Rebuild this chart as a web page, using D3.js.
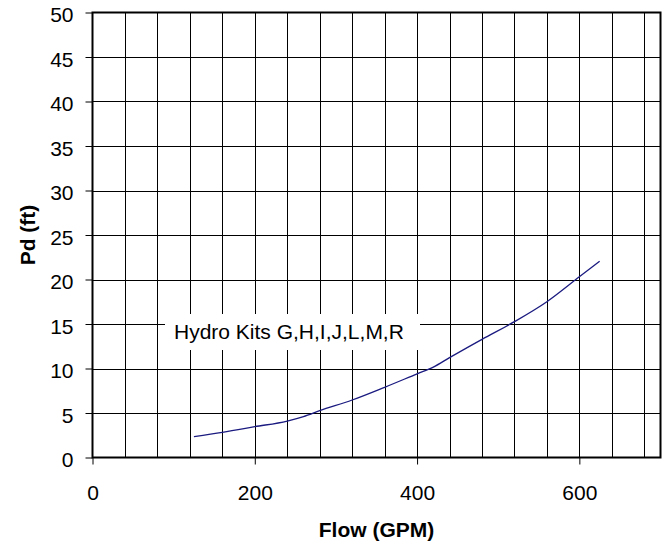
<!DOCTYPE html>
<html><head><meta charset="utf-8">
<script src="https://cdn.jsdelivr.net/npm/d3@7"></script>
<style>body{margin:0;background:#fff}svg{display:block}</style>
</head><body><svg id="c" width="668" height="546"></svg>
<script>
const flow = [125,160,200,240,260,280,320,360,400,420,440,480,520,560,600,625];
const pd   = [2.35,2.83,3.46,4.1,4.6,5.26,6.46,7.89,9.4,10.15,11.22,13.28,15.26,17.5,20.3,22.05];
const xTickLabels = [0,200,400,600];
const yTickLabels = [0,5,10,15,20,25,30,35,40,45,50];
const xGrid = d3.range(40,700,40);
const seriesLabel = "Hydro Kits G,H,I,J,L,M,R";

const FONT = "Arial, 'Liberation Sans', sans-serif";
const svg = d3.select("#c");
const L=92.5, R=660.5, T=12.5, B=457.5;
const x = d3.scaleLinear().domain([0,700]).range([L,R]);
const y = d3.scaleLinear().domain([0,50]).range([B,T]);

const g = svg.append("g");
g.selectAll(".vg").data(xGrid).join("line")
  .attr("x1",d=>Math.round(x(d))+0.5).attr("x2",d=>Math.round(x(d))+0.5)
  .attr("y1",T).attr("y2",B).attr("stroke","#000").attr("stroke-width",1).attr("shape-rendering","crispEdges");
g.selectAll(".hg").data(yTickLabels.slice(1,-1)).join("line")
  .attr("y1",d=>Math.round(y(d))+0.5).attr("y2",d=>Math.round(y(d))+0.5)
  .attr("x1",L).attr("x2",R).attr("stroke","#000").attr("stroke-width",1).attr("shape-rendering","crispEdges");

// label box
svg.append("rect").attr("x",165).attr("y",314).attr("width",255).attr("height",36).attr("fill","#fff");
svg.append("text").attr("x",174).attr("y",339).style("font-family",FONT).style("font-size","21px")
  .attr("fill","#000").text(seriesLabel);

// frame
svg.append("rect").attr("x",L).attr("y",T).attr("width",R-L).attr("height",B-T)
  .attr("fill","none").attr("stroke","#000").attr("stroke-width",2);

// axes
const yAxis = d3.axisLeft(y).tickValues(yTickLabels).tickSize(7).tickPadding(12);
const ya = svg.append("g").attr("transform",`translate(${L},0)`).call(yAxis);
ya.select(".domain").remove();
ya.selectAll("line").attr("stroke","#000");
ya.selectAll("text").style("font-size","21px").style("font-family",FONT).attr("fill","#000").attr("dy","0.44em");

const xAxis = d3.axisBottom(x).tickValues(xTickLabels).tickSize(7).tickPadding(21);
const xa = svg.append("g").attr("transform",`translate(0,${B})`).call(xAxis);
xa.select(".domain").remove();
xa.selectAll("line").attr("stroke","#000");
xa.selectAll("text").style("font-size","21px").style("font-family",FONT).attr("fill","#000");

// curve
const line = d3.line().x((d,i)=>x(flow[i])).y(d=>y(d)).curve(d3.curveMonotoneX);
svg.append("path").datum(pd).attr("d",line).attr("fill","none").attr("stroke","#1a1a80").attr("stroke-width",1.3);

// titles
svg.append("text").attr("x",(L+R)/2).attr("y",537).attr("text-anchor","middle")
  .style("font-family",FONT).style("font-size","21px").style("font-weight","bold").text("Flow (GPM)");
svg.append("text").attr("transform",`translate(35,${(T+B)/2}) rotate(-90)`).attr("text-anchor","middle")
  .style("font-family",FONT).style("font-size","21px").style("font-weight","bold").text("Pd (ft)");
</script></body></html>
